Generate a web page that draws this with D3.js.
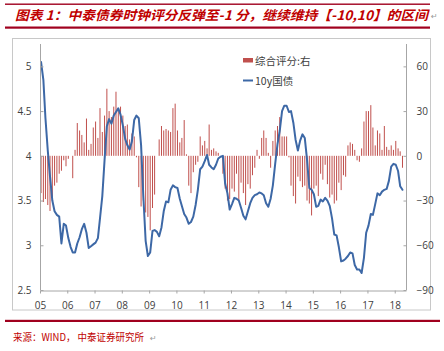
<!DOCTYPE html>
<html><head><meta charset="utf-8">
<script src="https://cdn.jsdelivr.net/npm/d3@7"></script>
<style>
html,body{margin:0;padding:0;background:#fff;}
svg{display:block;}
</style></head>
<body>
<svg id="c" width="444" height="351"></svg>
<script>
// ---- data (monthly, Jan 2005 – Apr 2018) ----
const startMonth = "2005-01";
const yield10y = [
5.05,4.85,4.42,4.06,3.77,3.50,3.38,3.34,3.32,3.02,3.24,3.22,
3.08,2.98,2.92,2.92,3.02,3.09,3.18,3.24,3.14,2.97,2.99,3.01,
3.03,3.08,3.30,3.55,3.95,4.33,4.41,4.36,4.45,4.49,4.53,4.46,
4.34,4.19,4.12,4.07,4.16,4.40,4.45,4.42,4.12,3.55,3.05,2.88,
2.92,3.16,3.17,3.15,3.10,3.20,3.38,3.49,3.48,3.62,3.67,3.65,
3.64,3.52,3.44,3.35,3.31,3.24,3.26,3.32,3.45,3.62,3.85,3.88,
3.94,4.01,3.90,3.87,3.85,3.90,3.97,3.99,4.00,3.69,3.58,3.40,
3.46,3.53,3.52,3.50,3.42,3.33,3.29,3.38,3.47,3.53,3.56,3.57,
3.59,3.58,3.56,3.47,3.43,3.52,3.67,3.91,4.13,4.28,4.50,4.56,
4.56,4.49,4.50,4.37,4.18,4.06,4.17,4.24,4.20,3.96,3.64,3.62,
3.57,3.43,3.44,3.51,3.49,3.53,3.50,3.44,3.30,3.12,3.11,2.98,
2.82,2.83,2.85,2.88,2.92,2.91,2.78,2.73,2.73,2.69,2.86,3.14,
3.22,3.35,3.34,3.46,3.58,3.56,3.60,3.62,3.63,3.72,3.88,3.91,
3.90,3.83,3.66,3.62
];
const score = [
-25,-31,-29,-33,-37,-30,-20,-18,-12,-10,-3,-7,
-2,0,-15,4,22,17,14,9,25,4,8,19,
23,12,32,16,27,45,30,26,33,43,31,33,
27,20,21,11,15,13,-1,-21,-34,-30,-38,-41,
-50,-35,-26,0,11,20,17,18,17,16,32,35,
17,9,12,24,1,-20,-25,-11,-6,-4,13,7,
10,5,21,4,5,3,2,0,-12,-22,-30,-29,
-22,-24,-12,-30,-18,-25,-33,-19,-22,-13,-8,4,
-2,12,17,12,2,-8,10,17,20,26,13,13,
13,-1,-20,-27,-32,-14,-17,-21,-20,-30,-32,-40,
-22,-20,-27,-12,-16,-6,-19,-28,-26,-32,-30,-18,
-23,-13,-14,7,9,8,4,-3,-4,5,23,30,
30,34,19,7,17,15,4,20,6,4,7,4,
10,5,3,-8
];
const leftTicks = [2.5,3,3.5,4,4.5,5];
const rightTicks = [-90,-60,-30,0,30,60];
const yearLabels = ["05","06","07","08","09","10","11","12","13","14","15","16","17","18"];
const seriesNames = ["综合评分:右","10y国债"];
const titleText = "图表 1：中泰债券时钟评分反弹至-1 分，继续维持【-10,10】的区间";
const sourceText = "来源：WIND， 中泰证券研究所";

// ---- setup ----
const svg = d3.select("#c");
const parse = d3.timeParse("%Y-%m");
const t0 = parse(startMonth);
const dates = yield10y.map((_, i) => { const d = d3.timeMonth.offset(t0, i); d.setDate(15); return d; });

const x = d3.scaleTime().domain([new Date(2005,0,1), new Date(2018,5,1)]).range([40, 406]);
const yL = d3.scaleLinear().domain([2.5, 5.25]).range([290, 44]);
const yR = d3.scaleLinear().domain([-90, 75]).range([290, 44]);

const red = "#c00000";
const dark = "#a0001e";
const txt = "#404040";

// header rules + title
svg.append("rect").attr("x",5).attr("y",3.5).attr("width",425).attr("height",1.4).attr("fill",dark);
svg.append("rect").attr("x",5).attr("y",26.5).attr("width",425).attr("height",2.2).attr("fill",dark);
svg.append("text").attr("x",15).attr("y",19.5)
  .attr("font-family","'Noto Sans CJK SC', sans-serif").attr("font-size",13)
  .attr("font-weight","bold").attr("font-style","italic").attr("fill",red)
  .attr("textLength",413).attr("lengthAdjust","spacingAndGlyphs")
  .text(titleText);
svg.append("text").attr("x",431).attr("y",19).attr("font-size",8).attr("fill","#999")
  .attr("font-family","DejaVu Sans").text("↵");

// chart frame
svg.append("rect").attr("x",12.5).attr("y",38.5).attr("width",418).attr("height",271.5)
  .attr("fill","none").attr("stroke","#c8c8c8").attr("stroke-width",1);

// bars
const bw = 1.0;
svg.append("g").selectAll("rect").data(score).join("rect")
  .attr("x",(d,i)=>x(dates[i]) - bw/2)
  .attr("y",d=>Math.min(yR(d), yR(0)))
  .attr("width",bw)
  .attr("height",d=>Math.abs(yR(d)-yR(0)))
  .attr("fill","#c0504d");

// line
const line = d3.line().x((d,i)=>x(dates[i])).y(d=>yL(d)).curve(d3.curveLinear);
svg.append("path").datum(yield10y).attr("d",line)
  .attr("fill","none").attr("stroke","#3d68a6").attr("stroke-width",2)
  .attr("stroke-linejoin","round").attr("stroke-linecap","round");

// axes
const axisColor = "#a6a6a6";
const gL = svg.append("g").attr("transform","translate(40.5,0)")
  .call(d3.axisLeft(yL).tickValues(leftTicks).tickSizeInner(-3).tickSizeOuter(0).tickPadding(9).tickFormat(d3.format("")));
const gR = svg.append("g").attr("transform","translate(406.5,0)")
  .call(d3.axisRight(yR).tickValues(rightTicks).tickSizeInner(-3).tickSizeOuter(0).tickPadding(9).tickFormat(d3.format("")));
const yearTicks = yearLabels.map((_,i)=>new Date(2005+i,0,1));
const gB = svg.append("g").attr("transform","translate(0,290.5)")
  .call(d3.axisBottom(x).tickValues(yearTicks).tickSizeInner(3).tickSizeOuter(0).tickPadding(8)
    .tickFormat((d,i)=>yearLabels[i]));
[gL,gR,gB].forEach(g=>{
  g.select(".domain").attr("stroke",axisColor);
  g.selectAll(".tick line").attr("stroke",axisColor);
  g.selectAll(".tick text").attr("fill",txt).attr("font-size",10)
    .attr("font-family","'Open Sans', 'Noto Sans', sans-serif");
});
gL.select(".domain").attr("d","M0,44V290");
gR.select(".domain").attr("d","M0,44V290");
gR.selectAll(".tick text").attr("x",10);

// legend
svg.append("rect").attr("x",243).attr("y",58).attr("width",10).attr("height",4.5).attr("fill","#c0504d");
svg.append("text").attr("x",255).attr("y",64.5).attr("font-size",10.5).attr("fill",txt)
  .attr("font-family","'Noto Sans CJK SC', sans-serif").text(seriesNames[0]);
svg.append("line").attr("x1",243).attr("x2",253).attr("y1",80.5).attr("y2",80.5)
  .attr("stroke","#3d68a6").attr("stroke-width",2);
svg.append("text").attr("x",255).attr("y",84.5).attr("font-size",10.5).attr("fill",txt)
  .attr("font-family","'Noto Sans CJK SC', sans-serif").text(seriesNames[1]);

// footer
svg.append("rect").attr("x",5).attr("y",319.8).attr("width",435).attr("height",2.2).attr("fill",dark);
svg.append("text").attr("x",13).attr("y",341).attr("font-size",10).attr("fill",red)
  .attr("font-family","'Noto Sans CJK SC', sans-serif")
  .attr("textLength",131).attr("lengthAdjust","spacingAndGlyphs").text(sourceText);
svg.append("text").attr("x",150).attr("y",341).attr("font-size",8).attr("fill","#999")
  .attr("font-family","DejaVu Sans").text("↵");
</script>
</body></html>
